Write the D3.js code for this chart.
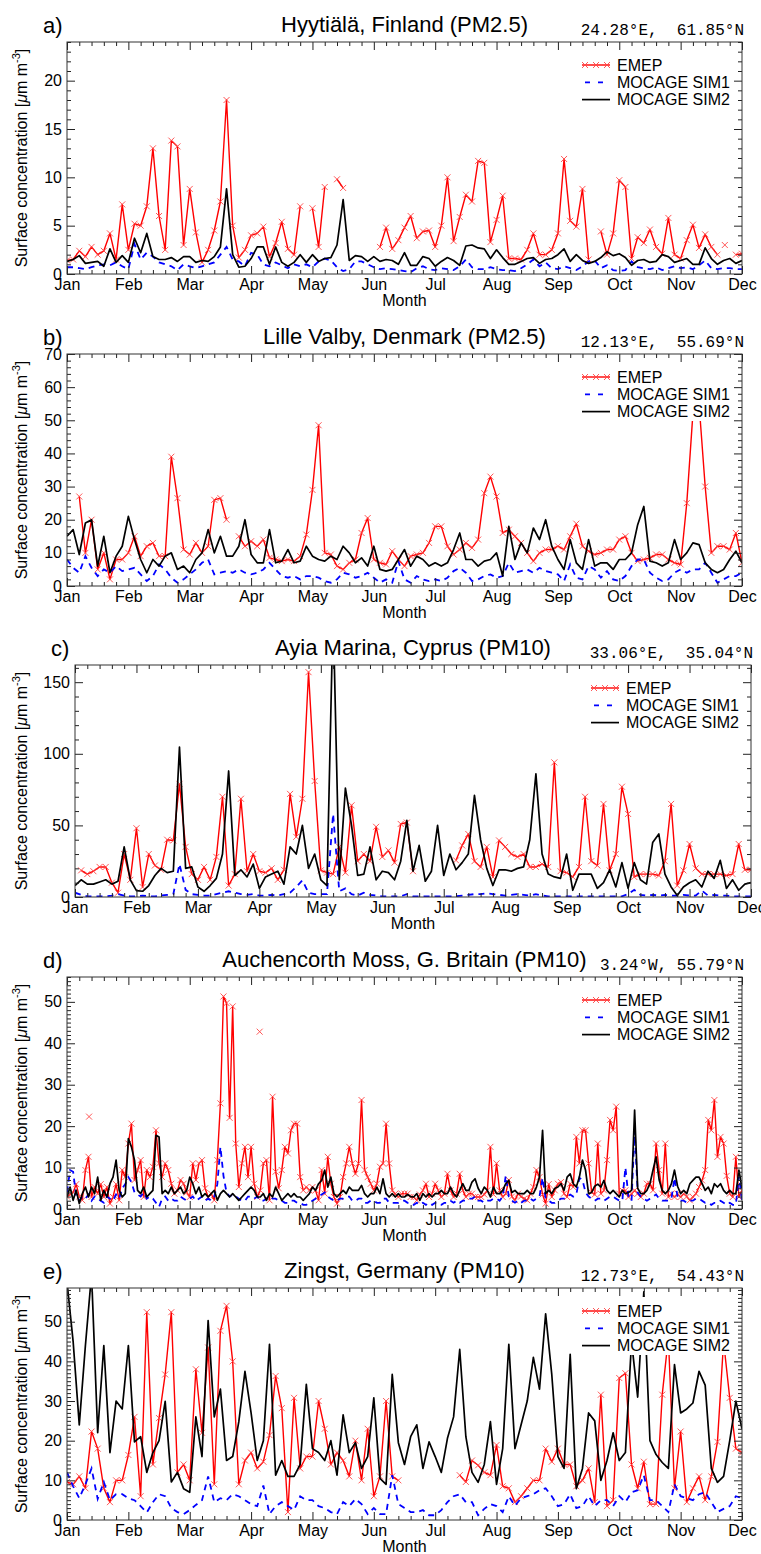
<!DOCTYPE html>
<html>
<head>
<meta charset="utf-8">
<script src="https://cdn.jsdelivr.net/npm/d3@7"></script>
<style>
  body { margin: 0; background: #fff; }
  svg text { font-family: "Liberation Sans", Arial, sans-serif; fill: #000; }
  svg text.coord { font-family: "Liberation Mono", "Courier New", monospace; white-space: pre; }
</style>
</head>
<body>
<svg id="chart" width="761" height="1554"></svg>
<script>
// months on the axis: Jan = 0 ... Dec = 11
const monthLabels = ["Jan", "Feb", "Mar", "Apr", "May", "Jun", "Jul", "Aug", "Sep", "Oct", "Nov", "Dec"];
const seriesNames = ["EMEP", "MOCAGE SIM1", "MOCAGE SIM2"];

// a) Hyytiälä, one value every 0.1 month
const aEmep = [1.4,1.5,2.4,1.8,2.8,2.0,2.4,4.2,1.5,7.2,
  2.5,5.2,5.0,7.0,13.0,6.0,2.5,13.8,13.2,3.0,
  8.8,4.3,1.2,2.5,4.5,7.5,18.0,5.0,1.7,2.5,
  4.0,4.2,4.9,1.8,3.2,5.4,2.6,2.0,7.0,null,
  6.8,2.8,9.0,null,9.8,8.9,null,null,null,null,
  null,2.8,4.8,2.6,3.5,4.8,6.0,3.7,4.4,4.5,
  2.8,5.0,10.0,3.4,5.9,8.2,7.5,11.7,11.5,3.3,
  5.6,8.1,1.6,1.6,1.5,2.5,4.2,2.0,2.0,2.5,
  4.2,11.9,5.5,4.9,8.8,1.5,null,4.4,2.0,4.2,
  9.7,9.0,1.6,3.8,3.2,4.6,2.8,2.1,5.8,2.0,
  1.6,3.5,5.1,2.7,4.1,2.8,2.0,null,null,2.0,
  2.1];
const aSim1 = [0.7,0.7,0.6,0.5,0.7,0.9,1.0,0.9,1.2,0.8,
  0.5,3.1,1.5,2.2,1.8,1.2,1.0,0.8,0.4,1.0,
  0.8,0.6,0.8,1.0,1.2,2.0,2.8,1.5,1.3,0.8,
  2.2,2.0,1.0,0.8,1.2,0.9,0.6,1.0,0.8,1.0,
  0.7,1.3,1.6,1.4,0.7,0.3,0.5,1.3,1.3,1.0,
  0.7,0.5,0.6,0.5,0.4,0.3,0.2,0.6,0.8,0.5,
  0.4,0.6,0.5,0.4,0.8,1.5,0.7,0.5,0.5,0.7,
  0.5,0.4,0.4,0.3,0.6,1.0,1.5,0.8,1.2,0.6,
  0.5,0.8,0.6,0.4,0.8,1.3,1.4,0.6,0.9,0.4,
  0.3,0.4,1.3,0.7,0.6,0.5,0.7,0.4,0.6,0.8,
  0.6,0.7,0.5,0.9,1.4,0.6,0.5,0.6,0.6,0.5,
  0.5];
const aSim2 = [1.3,1.5,1.9,1.1,1.2,1.3,0.8,2.6,1.2,1.9,
  1.2,3.7,2.2,4.2,1.8,1.5,1.5,1.7,1.3,1.8,
  1.8,1.2,1.4,1.3,1.8,2.8,8.8,2.0,0.7,0.8,
  1.6,2.8,2.8,1.0,2.8,1.2,0.8,1.2,2.0,1.2,
  2.0,1.3,1.6,1.7,3.0,7.7,1.4,1.9,1.8,1.3,
  1.8,1.3,1.5,1.4,1.0,2.2,0.9,0.9,1.8,1.6,
  0.8,1.3,1.7,1.4,0.9,2.9,3.0,2.7,2.6,1.6,
  2.5,1.7,1.0,1.0,1.3,1.6,1.7,1.1,1.5,1.6,
  2.0,2.6,1.3,2.0,1.4,1.1,1.3,1.7,2.3,1.9,
  2.1,1.7,0.9,1.4,1.5,1.2,1.3,2.0,1.8,1.2,
  1.4,1.6,1.0,1.0,2.7,1.6,1.0,1.4,1.6,1.1,
  1.4];
const aEmepDotMonths = [10.72];
const aEmepDotValues = [3.0];

// b) Lille Valby, every 0.1 month
const bEmep = [null,null,27,10,20,5,10,2,8,8,
  10,15,9,12,13,9,9,39,26.5,11,
  9.5,13,10,12,26,26.5,20,null,15,12,
  13.5,12,14,8.5,8,7.5,8,7.5,9,15.5,
  29,48.5,10,9.5,6,5,7,8,16,20.5,
  8,7,6.5,10.5,8,6,9,9.5,10,13,
  18,18,12,9.5,11,13,11.5,14,28,33,
  27,16,17,15,13,10,7.5,10,11,11,
  12,11,15,18.8,12,10.5,9.5,10,11,11,
  14,15,10,7.5,8,8.5,9.5,9.5,8,7,
  6.5,25,52,55,30,10,12,12,11,16,
  7];
const bSim1 = [8,5.5,4,9,5.5,3,5,4,6,4.5,
  5,5.5,3.5,1.5,3,6.5,5,2.5,1,2,
  3.5,5,7,8,3.5,4,4.5,4,5,4,
  3.5,4,5,7,5,3,2.5,3,2,3,
  3,2.5,1.5,1,2,4,3.5,2.5,3,4,
  2.5,1,2,1,7.5,2,1,3,2,1.5,
  2,1.5,2.5,4.5,5.5,4,1.5,2,3,3.5,
  2.5,3,7,4,4.5,5,4,5.5,4.5,4,
  3.5,1.5,6.5,2.5,2,6,5,2.5,4.5,2,
  1.5,3,6,8,8,4,2.5,1.5,2,4,
  5,4,5,5,7,4,1,2,3,3,
  4];
const bSim2 = [15,17,9.5,19,20,6,15,4,9,12,
  21,14,8,4,8,6,9,10,5,6,
  4,8,10,17,10,15,9,9,12,20,
  9.5,7,7,17,7,7.5,11,7,7.5,12,
  9,8,7.5,9,8,12,10,7,8.5,6,
  12,5,4.5,5,8,11,6,9,8,6,
  7,6,7,11,16,8,8,6,7.5,8,
  10,3,18,8,13,10,17.5,14,20,12,
  8,5,14,7,5,14,6,7,7,5,
  8,8,10,18.5,24,7.5,7,6,7,14,
  8,10,13,12.5,7,5,4,5,8,10.5,
  7];

// c) Ayia Marina, every 0.1 month
const cEmep = [null,18.6,16,18,21,21,10,3,30,12,
  48,7,30,22,19,40,39.5,79,35,16,
  12,21,12,28,70,8,16,68.6,18,30,
  18,17,20,12,19,72,42,68.6,157,81,
  18.6,17,16,35,17,64,25,30,25,49,
  28,32.5,24,51,52,18,null,null,null,null,
  null,null,25.6,36,44,25,21,35,14,39.5,
  35,30,28,30,21,21,23,21,94,18,
  17,14,21,70,25,22,65,18.6,30,77,
  58,14,16,16,16,15,25,65,8,18.6,
  37,20,16,16,16,16,15,16,37,19,
  19];
const cSim1 = [3,1.5,0.5,0.5,0.5,0.5,1,2,1,0.5,
  0.5,1,0.5,0.5,1,1.5,2,23,5,2,
  1.5,1,1,2,3,4,3,2,1.5,2,
  1,1,1.5,1,2,3,7,11.6,3,2,
  2,2,58,4,6,2,1,3,1.5,1,
  0.5,0.5,0.5,0.5,2,0.5,0.5,0.5,0.5,0.5,
  0.5,0.5,0.5,1,1.5,2,2,2.5,2,1.5,
  1,1.5,2,1.5,1,2,1,0.5,0.5,0.5,
  0.5,0.5,0.5,0.5,0.5,0.5,0.5,0.5,0.5,0.5,
  2,5,1.5,1,1.5,1,1.5,1,1,1.5,
  1,1,4.5,1,1.5,1,1,0.5,0.5,0.5,
  0.5];
const cSim2 = [8,12,9,9,10.5,12,9,11,35,12,
  4.5,4,8,15,20,17,18,104.7,20,21,
  7,4,8,13,30,88,15,19,14,23,
  6,14,16,18,9,35,30,50,20,30,
  12,8,200,12,76,50,15,16,35,12,
  18,17,12,25,53.5,18,36,11,18,50,
  15,30,19,24,30,71,40,20,8,19,
  19,18,20,21,40,86,30,16,14,13,
  30,4.7,16,16,16,6,10,19,7,24,
  6,24,12,9,38,44,16,7,1,7,
  10,12,7,18,13,25.6,6,12,4.7,9,
  10];

// d) Auchencorth Moss, every 0.05 month (noisier record)
const dEmep = [3,3.5,4,6,3,2.1,9.4,12.6,2.9,5.3,
  3.7,6,2.9,5.3,1.3,2.9,6,2.1,9.4,7.7,
  15.8,20.6,7,9.4,11.8,2.9,9.4,7.7,10.2,19,
  11,7.7,11,9.4,6.1,3.7,4.5,7,6.1,4,
  2.9,11,7,11,11.8,5,2.9,3.7,2.1,11.8,
  25.5,51.3,49.7,22,48.9,15.8,5.3,11,15,7.7,
  15,6.1,2.9,4.5,11,11.8,2.1,27.1,9,5,
  9.4,15,13.4,19,20.6,20.6,7.7,4.5,5.3,4.5,
  5.3,4.5,2.1,9.4,3.7,12.6,6.1,2.9,1.3,2.9,
  7.7,11,15,11,8.5,11,26.3,9.4,7.7,6.1,
  4.5,6.1,10.2,11,20.6,11,4.5,3.7,2.9,3.7,
  3.7,3.7,2.9,2.9,2.1,3.5,4.5,6.1,2.9,3.7,
  6.1,4.5,2.9,3.7,8.5,4.5,2.9,3.7,8.5,4.5,
  2.9,3.7,3.7,2.9,2.9,2.9,3.5,4.5,15,3.5,
  11,4.5,2.9,3.7,7,3,2.1,3.7,3,2.5,
  2.1,3.7,5.3,9.4,7.7,3.5,1.3,6,2.9,4.5,
  6.1,6.5,3.7,2.9,6.1,5.3,17.4,11,19,19,
  11,4,3.5,15.8,3.7,4.5,11.8,21.5,19,24.7,
  3.7,4.5,4.5,2.9,3.7,4.5,3.7,2.9,3.7,6.1,
  6.1,4.5,15.8,9.4,3.7,15.8,2.9,3.7,2.9,3.7,
  2.9,3.7,3,2.1,2.9,3.7,5.3,6.9,9.4,21.5,
  19,26.3,12.6,17.4,15.8,8,3.7,2.9,12.6,2.9,
  4.5];
const dSim1 = [4,9.4,9,3,2,3,2.5,3.5,2,3,
  2.5,2,1.5,3,2.5,2,3.5,2.5,5,6,
  7.7,6.5,4,3.5,3,4,2.5,3,2.5,1.5,
  0.5,2.5,3,2,2.5,2,2,3,2.5,2,
  2.5,3,2,2.5,3,2,2.5,2,3,6,
  15,8,4,3,3.5,3,2.5,2,2,3,
  3,2.5,3,2,2,2.5,3,2.5,2.5,2,
  2,1.5,1.5,2,2,1.5,1.5,1,1,1.5,
  2,2.5,3,3.5,4,3,2.5,2,2,2.5,
  2.5,3,3,2,2,2.5,2.5,1.5,1.5,2,
  2,1.5,1.5,2.5,2.5,1.5,1.5,1.5,1.5,2,
  2,1.5,1.5,1,1.5,1,1.5,1,1.5,1,
  1.5,1,1,1.5,1.5,2,1.5,2,1.5,2,
  2,2.5,2.5,3,2,2,1.5,2,2,2.5,
  2.5,2,3,8,3,2,1.5,2,1.5,2,
  2,2.5,2,2.5,3,7.5,2.5,2,1.5,1.5,
  2,2.5,2.5,3,3.5,3,3.5,7.5,7,4,
  3,2.5,2,2.5,2.5,2,2.5,3,3,2.5,
  2,2,10,3,2,19,4,3,2.5,2,
  2.5,3,3.5,2.5,2,2,2,2.5,7.5,3,
  2,2,1.5,2,2,2.5,2.5,2,1.5,1.5,
  1,1.5,1.5,2,1.5,1,1.5,1,1,8,
  2];
const dSim2 = [2.9,5.3,2.1,4.5,1.3,3.7,5.3,2.9,5.3,3.7,
  7.7,2.1,4.5,2.9,6.1,7.7,11.8,4.5,2.9,3.7,
  17,15,11.8,4.5,3.7,5.3,2.9,3.7,4.5,17.8,
  17.4,3.7,4.5,3.7,5.3,3.7,4.5,5.3,3.7,4.5,
  7.7,6.1,3.7,5.3,2.9,3.7,2.9,3.7,4.5,2.1,
  3.7,4.5,3.7,2.9,3.7,2.9,2.1,2.9,3.7,4.5,
  5.3,4.5,2.9,2.9,3.7,2.1,3.7,2.9,5.3,3.7,
  2.1,2.9,3.7,2.9,3.7,2.9,2.9,2.1,2.9,3.7,
  5.3,4.5,6.1,6.9,9.4,5.3,7.7,3.7,2.9,3.7,
  4.5,3.7,5.3,4.5,4.5,4.5,5.7,3.7,2.9,3.7,
  3.7,5.3,3.7,7.3,3.7,2.9,3.7,2.9,3.7,2.9,
  2.9,3.5,3,2.9,3.7,2.1,3.7,2.9,3.7,2.9,
  3.7,3.7,4.5,3.7,3.7,5.3,3.7,2.9,4.5,6.1,
  4.5,4.5,6.5,7.3,5,3.7,5.3,4.5,2.9,5.3,
  3.7,3.7,4.5,6.1,6.9,4,4.5,3.7,3.7,3.7,
  4.5,3.7,3.7,5.3,7.7,19,3.7,4.5,3.7,5,
  5.3,6.1,4.5,7.7,8.5,6.1,5.3,7.7,11.8,9.4,
  3.7,4,5.5,6,5.3,6.9,4.5,3.7,4.5,3.7,
  2.9,4.5,3.7,4,4.5,23.9,5,3.7,3.7,4.5,
  6.1,9.4,12.6,7,4.5,3.7,4.5,6.1,9.4,5.5,
  3.7,4.5,3.7,6.1,6.9,7.7,7.7,6.1,4.5,5.3,
  3.7,6.1,5.3,6.1,4.5,3.7,4.5,3.7,3.7,9.4,
  5];
const dEmepDotMonths = [0.36, 3.14];
const dEmepDotValues = [22.3, 42.8];

// e) Zingst, every 0.1 month
const eEmep = [9.6,9,11,8,22.3,18,8,4.5,10,10,
  16.4,26,6,52.4,14,25.7,36.7,52.4,12,14,
  10,38,22,43.5,9,47.7,54,40,9,15,
  17,13,14.7,21.4,36.3,28.2,2,30.8,13,16,
  16,30,23,14,17,15,11,20,10,23,
  6,11,30,11,10,null,null,null,null,null,
  null,null,null,null,11.3,9.6,15,13.8,12,11.3,
  18.9,8.5,8,4.5,6,8,10,10,18,14.7,
  18,14,14,8.5,10,13,4.5,31.6,3.5,5,
  35.8,37,14,8,14.7,4,4,31.6,46,8,
  22.3,4.5,8,11,5,11,19.7,45,30.8,18,
  17];
const eSim1 = [12,8.5,5.5,9,13,5.3,9.6,5,6.5,6.5,
  5.5,5,3.5,1.9,4.5,6.5,6,3,2,1.5,
  2.5,3.8,5,11,4.5,5.5,5,6.5,6,5,
  4,3.5,8.7,1.5,3.5,4.5,3.5,2.5,6,5,
  5,3.5,3,2,1.5,4.5,3.5,5.3,4,1.5,
  3,1.5,1.5,11.3,4,3,2,2,2.5,1.2,
  1.2,2.5,4.5,6,6.5,4.5,4.5,1.2,2.8,4,
  3.5,2,6,3.6,5.5,6,6.5,7.5,8,6,
  3.5,4,6.5,3,3.5,6,3.5,5,5,3.5,
  6,4.5,7,7.5,11.3,5,5,3.5,2,9,
  6,5.5,5,6.5,7,4.5,2,2.8,3.5,6,
  5.5];
const eSim2 = [60,45,24,44,62,22,44,17,30,28,
  44,19.7,21,12,17,20,29.9,9.6,12,7.9,
  7,26,16,50.3,26,33,15,16,24.8,37.5,
  27,15,20,44.3,11.3,15,11,11,14,34.2,
  18,17,15,20,11.3,26.5,17,19.5,13,16,
  30.8,10.5,9,36.7,19.5,14,21,24,13,19.7,
  16,12,20.6,26,43,21,12,9.5,14,24.8,
  9,18,44.3,18,24,30,41,33,52,36.7,
  16,13,41.8,7.9,13,27,25,10,15,22,
  15,17,45,31,57.5,20,16.5,14.5,13,39.2,
  27,28,29.5,37.5,34,13,9.5,11,20,30,
  23];

// panel text
const panelLabels = ["a)", "b)", "c)", "d)", "e)"];
const panelTitles = [
  "Hyytiälä, Finland (PM2.5)",
  "Lille Valby, Denmark (PM2.5)",
  "Ayia Marina, Cyprus (PM10)",
  "Auchencorth Moss, G. Britain (PM10)",
  "Zingst, Germany (PM10)",
];
const panelCoords = [
  "24.28°E,  61.85°N",
  "12.13°E,  55.69°N",
  "33.06°E,  35.04°N",
  "3.24°W, 55.79°N",
  "12.73°E,  54.43°N",
];
const yMax = [24, 70, 162, 56, 58.5];
const yMajor = [5, 10, 50, 10, 10];
const yMinor = [1, 2, 10, 1, 1];

const COLORS = { emep: "#ff0000", marker: "#ff4545", sim1: "#0000ff", sim2: "#000000" };

class Panel {
  constructor(_config, _data) {
    this.config = _config;
    this.data = _data;
    this.initVis();
  }

  initVis() {
    let vis = this;
    const c = vis.config;
    vis.height = 232;
    vis.bottom = c.top + vis.height;

    vis.svg = d3.select("#chart").append("g").attr("class", "panel");

    vis.xScale = d3.scaleLinear().domain([0, 11]).range([c.left, c.right]);
    vis.yScale = d3.scaleLinear().domain([0, c.ymax]).range([vis.bottom, c.top]);

    vis.svg.append("clipPath").attr("id", "clip-" + c.key)
      .append("rect")
      .attr("x", c.left).attr("y", c.top)
      .attr("width", c.right - c.left).attr("height", vis.height);

    vis.plotG = vis.svg.append("g").attr("clip-path", `url(#clip-${c.key})`);

    vis.renderVis();
  }

  renderVis() {
    let vis = this;
    const c = vis.config;
    const x = vis.xScale, y = vis.yScale;
    const step = vis.data.step;
    const toPoints = (vals) => vals.map((v, i) => ({ m: i * step, v: v }));
    const line = d3.line()
      .defined((d) => d.v !== null)
      .x((d) => x(d.m))
      .y((d) => y(d.v));
    const cross = "M-3,-3L3,3M-3,3L3,-3";

    // EMEP: red line with x markers
    const emepPts = toPoints(vis.data.emep);
    vis.plotG.append("path").datum(emepPts)
      .attr("d", line).attr("fill", "none")
      .attr("stroke", COLORS.emep).attr("stroke-width", 1.4)
      .attr("stroke-linejoin", "round");

    const dots = (vis.data.dotMonths || []).map((m, i) => ({ m: m, v: vis.data.dotValues[i] }));
    vis.plotG.selectAll(".mk")
      .data(emepPts.filter((d) => d.v !== null).concat(dots))
      .join("path")
      .attr("class", "mk")
      .attr("d", cross)
      .attr("transform", (d) => `translate(${x(d.m)},${y(d.v)})`)
      .attr("stroke", COLORS.marker).attr("stroke-width", 0.9).attr("fill", "none");

    // SIM1: blue dashed
    vis.plotG.append("path").datum(toPoints(vis.data.sim1))
      .attr("d", line).attr("fill", "none")
      .attr("stroke", COLORS.sim1).attr("stroke-width", 1.8)
      .attr("stroke-dasharray", "6,5");

    // SIM2: black solid
    vis.plotG.append("path").datum(toPoints(vis.data.sim2))
      .attr("d", line).attr("fill", "none")
      .attr("stroke", COLORS.sim2).attr("stroke-width", 1.7)
      .attr("stroke-linejoin", "round");

    // legend (its box hides the curves under it)
    const lg = vis.svg.append("g")
      .attr("transform", `translate(${c.right - 160},${c.top + 23})`);
    lg.append("rect")
      .attr("x", -6).attr("y", -14).attr("width", 152).attr("height", 58)
      .attr("fill", "#fff");
    const rowH = 17.3;
    lg.append("line").attr("x1", 0).attr("x2", 28).attr("y1", 0).attr("y2", 0)
      .attr("stroke", COLORS.emep).attr("stroke-width", 1.4);
    lg.selectAll(".lmk").data([3, 14, 25]).join("path")
      .attr("d", cross).attr("transform", (d) => `translate(${d},0)`)
      .attr("stroke", COLORS.marker).attr("stroke-width", 0.9);
    lg.append("line").attr("x1", 3).attr("x2", 21).attr("y1", rowH).attr("y2", rowH)
      .attr("stroke", COLORS.sim1).attr("stroke-width", 1.8).attr("stroke-dasharray", "5,8");
    lg.append("line").attr("x1", 0).attr("x2", 28).attr("y1", 2 * rowH).attr("y2", 2 * rowH)
      .attr("stroke", COLORS.sim2).attr("stroke-width", 1.7);
    lg.selectAll(".ltx").data(seriesNames).join("text")
      .attr("x", 35).attr("y", (d, i) => i * rowH + 5.8)
      .attr("font-size", 16).text((d) => d);

    // axes: ticks point inward on all four sides
    const font = "Liberation Sans, Arial, sans-serif";
    const majorX = d3.range(0, 12);
    const minorX = d3.range(1, 55).filter((i) => i % 5 !== 0).map((i) => i * 0.2);
    const majorY = d3.range(0, c.ymax + 1e-9, c.major);
    const minorY = d3.range(0, c.ymax + 1e-9, c.minor)
      .filter((v) => Math.abs(v / c.major - Math.round(v / c.major)) > 1e-6);

    const styleAxis = (g) => {
      g.select(".domain").remove();
      g.attr("font-size", 16).attr("font-family", font);
      g.selectAll("line").attr("stroke", "#222");
      g.selectAll("text").attr("fill", "#000");
    };

    vis.svg.append("g").attr("transform", `translate(0,${vis.bottom})`)
      .call(d3.axisBottom(x).tickValues(majorX).tickFormat((i) => monthLabels[i])
        .tickSizeInner(-8).tickSizeOuter(0).tickPadding(5))
      .call(styleAxis);
    vis.svg.append("g").attr("transform", `translate(0,${vis.bottom})`)
      .call(d3.axisBottom(x).tickValues(minorX).tickFormat(() => "").tickSizeInner(-4).tickSizeOuter(0))
      .call(styleAxis);
    vis.svg.append("g").attr("transform", `translate(0,${c.top})`)
      .call(d3.axisTop(x).tickValues(majorX).tickFormat(() => "").tickSizeInner(-8).tickSizeOuter(0))
      .call(styleAxis);
    vis.svg.append("g").attr("transform", `translate(0,${c.top})`)
      .call(d3.axisTop(x).tickValues(minorX).tickFormat(() => "").tickSizeInner(-4).tickSizeOuter(0))
      .call(styleAxis);

    vis.svg.append("g").attr("transform", `translate(${c.left},0)`)
      .call(d3.axisLeft(y).tickValues(majorY).tickFormat(d3.format("d"))
        .tickSizeInner(-8).tickSizeOuter(0).tickPadding(5))
      .call(styleAxis);
    vis.svg.append("g").attr("transform", `translate(${c.left},0)`)
      .call(d3.axisLeft(y).tickValues(minorY).tickFormat(() => "").tickSizeInner(-4).tickSizeOuter(0))
      .call(styleAxis);
    vis.svg.append("g").attr("transform", `translate(${c.right},0)`)
      .call(d3.axisRight(y).tickValues(majorY).tickFormat(() => "").tickSizeInner(-8).tickSizeOuter(0))
      .call(styleAxis);
    vis.svg.append("g").attr("transform", `translate(${c.right},0)`)
      .call(d3.axisRight(y).tickValues(minorY).tickFormat(() => "").tickSizeInner(-4).tickSizeOuter(0))
      .call(styleAxis);

    vis.svg.append("rect")
      .attr("x", c.left).attr("y", c.top)
      .attr("width", c.right - c.left).attr("height", vis.height)
      .attr("fill", "none").attr("stroke", "#333").attr("stroke-width", 1);

    // texts
    const midX = (c.left + c.right) / 2;
    vis.svg.append("text")
      .attr("x", c.left - 24).attr("y", c.top - 9)
      .attr("font-size", 22).text(c.label);
    vis.svg.append("text")
      .attr("x", midX).attr("y", c.top - 10)
      .attr("text-anchor", "middle").attr("font-size", 22).text(c.title);
    vis.svg.append("text")
      .attr("class", "coord")
      .attr("x", c.right + 2).attr("y", c.top - 7)
      .attr("text-anchor", "end").attr("font-size", 16).text(c.coord);
    vis.svg.append("text")
      .attr("x", midX).attr("y", vis.bottom + 32)
      .attr("text-anchor", "middle").attr("font-size", 16).text("Month");

    const yl = vis.svg.append("text")
      .attr("transform", `translate(27,${(c.top + vis.bottom) / 2}) rotate(-90)`)
      .attr("text-anchor", "middle").attr("font-size", 16);
    yl.append("tspan").text("Surface concentration [");
    yl.append("tspan").attr("font-style", "italic").text("μ");
    yl.append("tspan").text("m m");
    yl.append("tspan").attr("font-size", 11).attr("dy", -7).text("-3");
    yl.append("tspan").attr("dy", 7).text("]");
  }
}

const layout = [
  { key: "a", top: 42, left: 67, right: 742 },
  { key: "b", top: 354, left: 67, right: 742 },
  { key: "c", top: 665, left: 75, right: 751 },
  { key: "d", top: 977, left: 67, right: 742 },
  { key: "e", top: 1288, left: 67, right: 742 },
];
const panelData = [
  { step: 0.1, emep: aEmep, sim1: aSim1, sim2: aSim2, dotMonths: aEmepDotMonths, dotValues: aEmepDotValues },
  { step: 0.1, emep: bEmep, sim1: bSim1, sim2: bSim2 },
  { step: 0.1, emep: cEmep, sim1: cSim1, sim2: cSim2 },
  { step: 0.05, emep: dEmep, sim1: dSim1, sim2: dSim2, dotMonths: dEmepDotMonths, dotValues: dEmepDotValues },
  { step: 0.1, emep: eEmep, sim1: eSim1, sim2: eSim2 },
];

layout.forEach((l, i) => {
  new Panel({
    ...l,
    label: panelLabels[i],
    title: panelTitles[i],
    coord: panelCoords[i],
    ymax: yMax[i],
    major: yMajor[i],
    minor: yMinor[i],
  }, panelData[i]);
});
</script>
</body>
</html>
